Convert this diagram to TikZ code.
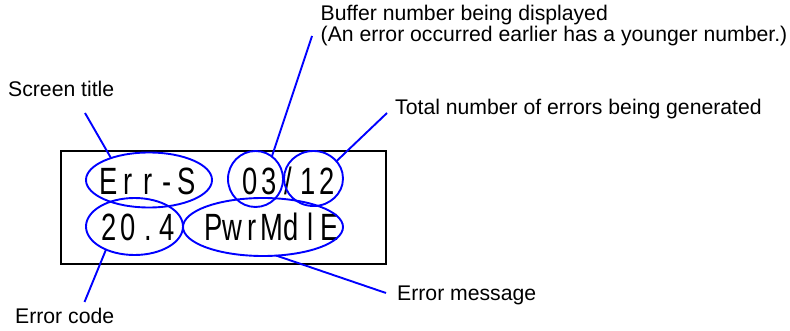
\documentclass[tikz,border=0pt]{standalone}
\usepackage{fontspec}
\setmainfont{Liberation Sans}
\newfontfamily\lcdfont[FakeStretch=0.72]{Liberation Sans}
\usetikzlibrary{shapes.geometric}
\newcommand\lcdcell[1]{\makebox[19.4pt][c]{#1}}
\tikzset{
  lcd/.style={font=\lcdfont\fontsize{38}{38}\selectfont, inner sep=0pt, anchor=base},
  mark ring/.style={ellipse, draw=blue, line width=1.9pt, inner sep=0pt, outer sep=0pt},
  callout/.style={draw=blue, line width=1.9pt},
  label text/.style={font=\fontsize{21.2}{18.7}\selectfont, inner sep=0pt, anchor=base west},
}
\begin{document}
\begin{tikzpicture}[x=1pt, y=-1pt]
\useasboundingbox (0,0) rectangle (790,331);

% display frame
\draw[line width=1.8pt] (60.8,151) rectangle (385.8,264);

% display contents
\node[lcd] (ttl) at (147.8,195) {\lcdcell{E}\lcdcell{r}\lcdcell{r}\lcdcell{-}\lcdcell{S}};
\node[lcd] (cnt) at (288.7,195) {\lcdcell{0}\lcdcell{3}\lcdcell{/}\lcdcell{1}\lcdcell{2}};
\node[lcd] (cod) at (138.3,241) {\lcdcell{2}\lcdcell{0}\lcdcell{.}\lcdcell{4}};
\node[lcd] (msg) at (271.4,241) {\lcdcell{P}\lcdcell{w}\lcdcell{r}\lcdcell{M}\lcdcell{d}\lcdcell{l}\lcdcell{E}};

% rings around the fields
\node[mark ring, minimum width=126pt, minimum height=55pt] (rTitle) at (149,180) {};
\node[mark ring, minimum width=55pt,  minimum height=56pt] (rBuf)   at (255.5,179) {};
\node[mark ring, minimum width=59pt,  minimum height=55pt] (rTot)   at (313.5,178.5) {};
\node[mark ring, minimum width=97pt,  minimum height=57pt] (rCode)  at (134.5,226.5) {};
\node[mark ring, minimum width=160pt, minimum height=58pt] (rMsg)   at (263,227) {};

% labels (the two-line one is anchored on its last baseline)
\node[label text] (lTitle) at (8,97) {Screen title};
\node[label text, align=left] (lBuf) at (320.5,41.7) {Buffer number being displayed\\(An error occurred earlier has a younger number.)};
\node[label text] (lTot) at (395,115) {Total number of errors being generated};
\node[label text] (lMsg) at (397,301) {Error message};
\node[label text] (lCode) at (15,323) {Error code};

% free ends of the callouts
\coordinate (cTitle) at (85,113);
\coordinate (cBuf) at (312,36);
\coordinate (cTot) at (387,113);
\coordinate (cCode) at (84.5,302);
\coordinate (cMsg) at (386,293);

\draw[callout] (cTitle) -- (rTitle.150);
\draw[callout] (cBuf) -- (rBuf.54);
\draw[callout] (cTot) -- (rTot.37);
\draw[callout] (cCode) -- (rCode.219);
\draw[callout] (cMsg) -- (rMsg.-65);
\end{tikzpicture}
\end{document}
